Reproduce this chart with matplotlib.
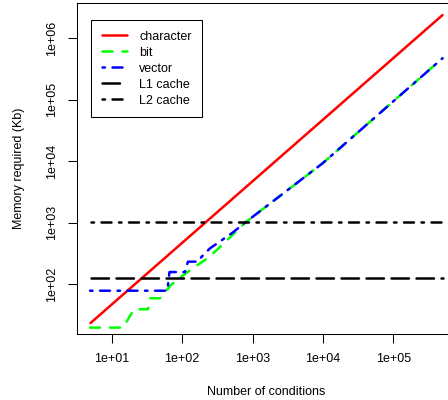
import matplotlib
matplotlib.use('Agg')
import matplotlib.pyplot as plt

plt.rcParams['font.family'] = ['Liberation Sans', 'DejaVu Sans']
plt.rcParams['font.size'] = 9

# values
n_char = [5, 50, 500, 5000, 50000, 500000]
mem_char = [23.5, 235, 2350, 23500, 235000, 2350000]

n_bit = [4.92, 14.5, 20.7, 32.8, 35.0, 48.5, 69.5, 98.6, 141, 230, 334, 782, 10000, 100000, 500000]
mem_bit = [19.8, 19.8, 39.3, 39.3, 59.3, 59.3, 97.5, 134, 182, 264, 388, 1000, 9300, 93500, 467000]

n_vec = [4.92, 61.7, 66.2, 110, 121, 168, 190, 249, 507, 782, 10000, 100000, 500000]
mem_vec = [78.7, 78.7, 158, 158, 233, 233, 281, 384, 673, 1000, 9300, 93500, 467000]

n_cache = [5, 500000]
l1_cache = 128
l2_cache = 1024

x_ticks = [1e1, 1e2, 1e3, 1e4, 1e5]
x_labels = ['1e+01', '1e+02', '1e+03', '1e+04', '1e+05']
y_ticks = [1e2, 1e3, 1e4, 1e5, 1e6]
y_labels = ['1e+02', '1e+03', '1e+04', '1e+05', '1e+06']

fig = plt.figure(figsize=(4.48, 4.0), dpi=100)
# plot region runs past the right edge of the picture, as in the reference
ax = fig.add_axes([76.7 / 448, 66 / 400, 379.9 / 448, 331 / 400])

lw = 1.8
common = dict(linewidth=lw, dash_capstyle='round', solid_capstyle='round')

ax.plot(n_char, mem_char, color='#FF0000', linestyle='-', label='character', **common)
ax.plot(n_bit, mem_bit, color='#00FF00', linestyle=(0, (4, 4)), label='bit', **common)
ax.plot(n_vec, mem_vec, color='#0000FF', linestyle=(0, (1, 3, 4, 3)), label='vector', **common)
ax.plot(n_cache, [l1_cache, l1_cache], color='black', linestyle=(0, (7, 3)), label='L1 cache', **common)
ax.plot(n_cache, [l2_cache, l2_cache], color='black', linestyle=(0, (1, 3, 4, 3)), label='L2 cache', **common)

ax.set_xscale('log')
ax.set_yscale('log')
ax.set_xlim(10 ** 0.5028, 10 ** 5.899)
ax.set_ylim(10 ** 1.193, 10 ** 6.567)

ax.minorticks_off()
ax.set_xticks(x_ticks)
ax.set_xticklabels(x_labels)
ax.set_yticks(y_ticks)
ax.set_yticklabels(y_labels, rotation=90, va='center')
ax.tick_params(direction='out', length=6.5, width=0.75, pad=7)

for s in ax.spines.values():
    s.set_linewidth(0.75)

# Title and labels
ax.set_xlabel('Number of conditions', va='center')
ax.set_ylabel('Memory required (Kb)', va='center')
ax.xaxis.set_label_coords(0.5, -57.7 / 331)
ax.yaxis.set_label_coords(-57.7 / 379.9, 0.5)

# Legend
leg = ax.legend(loc='upper left', bbox_to_anchor=(91 / 448, 1 - 20 / 400),
                bbox_transform=fig.transFigure, borderaxespad=0, borderpad=0.85,
                handlelength=2.0, handletextpad=1.0, labelspacing=0.32,
                fancybox=False, framealpha=1, edgecolor='black')
leg.get_frame().set_linewidth(0.75)

plt.savefig('out.png', dpi=100)
